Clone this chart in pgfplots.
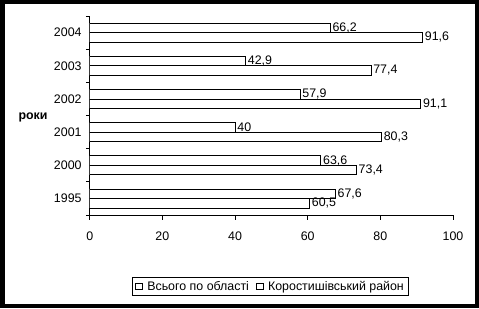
\documentclass[border=0pt]{standalone}
\usepackage{pgfplots}
\pgfplotsset{compat=1.18}
\usepackage{fontspec}
\setmainfont{Liberation Sans}
\newcommand\f{\fontsize{12.4}{14}\selectfont}
\begin{document}
\begin{tikzpicture}[x=1pt,y=1pt]
\fill[black] (0,0) rectangle (479,308);
\fill[white] (4.7,4) rectangle (475,304);
\begin{axis}[
  at={(89.7pt,93pt)}, anchor=south west,
  scale only axis, width=363.3pt, height=199pt,
  xbar, bar width=9.5pt,
  legend image code/.code={\draw[black,line width=0.5pt,fill=white] (0pt,-3.3pt) rectangle (6.6pt,3.3pt); \path (9.5pt,0pt);},
  xmin=0, xmax=100, ymin=-0.5, ymax=5.5,
  axis x line=bottom, axis y line=left,
  axis line style={-, line width=0.75pt},
  tick align=outside,
  major tick length=4.6pt, minor tick length=3.8pt,
  every tick/.style={black, line width=0.75pt},
  xtick={0,20,...,100},
  ytick={0,...,5}, yticklabels={1995,2000,2001,2002,2003,2004},
  minor ytick={-0.5,0.5,...,5.5},
  major y tick style={draw=none},
  /pgf/number format/assume math mode=true,
  /pgf/number format/use comma,
  /pgf/number format/precision=1,
  ticklabel style={font=\f},
  xticklabel style={yshift=-8.5pt},
  ylabel={\textbf{роки}},
  ylabel style={font=\f, at={(axis description cs:-0.156,0.4925)}, rotate=-90, anchor=center},
  nodes near coords,
  nodes near coords style={font=\f, anchor=west, inner sep=2pt, black},
  legend columns=2,
  legend cell align=left,
  legend style={at={(axis description cs:0.4977,-0.359)}, anchor=center, draw=black, line width=0.75pt, font=\f, inner xsep=3pt, inner ysep=2pt,
    /tikz/every even column/.append style={column sep=5pt}},
]
\addplot[draw=black, fill=white, line width=0.75pt, bar shift=-4.75pt] coordinates {(60.5,0) (73.4,1) (80.3,2) (91.1,3) (77.4,4) (91.6,5)};
\addlegendentry{Всього по області}
\addplot[draw=black, fill=white, line width=0.75pt, bar shift=4.75pt] coordinates {(67.6,0) (63.6,1) (40,2) (57.9,3) (42.9,4) (66.2,5)};
\addlegendentry{Коростишівський район}
\end{axis}
\end{tikzpicture}
\end{document}
